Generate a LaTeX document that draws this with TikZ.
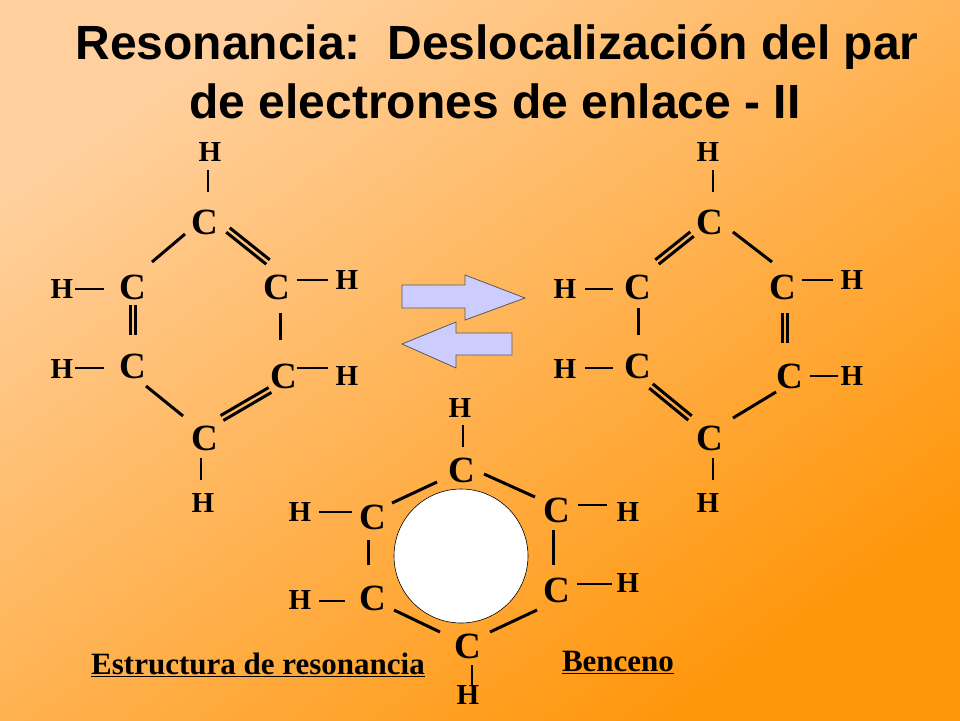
\documentclass[tikz,border=0pt]{standalone}
\usepackage{fontspec}
\setmainfont{Liberation Serif}
\newfontfamily\arialb{Liberation Sans}
\usetikzlibrary{calc}
\newcommand\dbl[2]{\draw[bond] ($#1!2.8pt!90:#2$)--($#2!2.8pt!-90:#1$); \draw[bond] ($#1!2.8pt!-90:#2$)--($#2!2.8pt!90:#1$);}
\begin{document}
\begin{tikzpicture}[x=1pt,y=-1pt,
  cc/.style={font=\fontsize{37}{37}\selectfont\bfseries,inner sep=0pt},
  hh/.style={font=\fontsize{29}{29}\selectfont\bfseries,inner sep=0pt},
  bond/.style={line width=3pt},
  hb/.style={line width=1.2pt},
  arr/.style={fill={rgb,255:red,204;green,204;blue,255},draw=gray!70!black,line width=0.8pt},
  lab/.style={font=\fontsize{31}{31}\selectfont\bfseries,inner sep=0pt}]
\useasboundingbox (0,0) rectangle (960,720);
\shade[left color={rgb,255:red,255;green,208;blue,158},right color={rgb,255:red,255;green,150;blue,10},shading angle=35] (0,0) rectangle (960,720);
\node[font=\fontsize{48}{48}\selectfont\arialb\bfseries] (t1) at (497,47) {Resonancia:\ \ Deslocalización del par};
\node[font=\fontsize{48}{48}\selectfont\arialb\bfseries] (t2) at (495,101) {de electrones de enlace - II};
% left molecule
\node[cc] (a1) at (205,222) {C}; \node[cc] (a2) at (133,287) {C}; \node[cc] (a3) at (277,287) {C};
\node[cc] (a4) at (133,366) {C}; \node[cc] (a5) at (284,376) {C}; \node[cc] (a6) at (205,438) {C};
\node[hh] (ha1) at (210,152) {H}; \node[hh] (ha6) at (203,503) {H};
\node[hh] (ha2) at (62,289) {H}; \node[hh] (ha4) at (62,369) {H};
\node[hh] (ha3) at (347,280) {H}; \node[hh] (ha5) at (347,376) {H};
\draw[bond] (152,262)--(185,234);
\dbl{(228,230)}{(268,262)}
\dbl{(133,305)}{(133,335)}
\draw[bond] (280,313)--(280,340);
\draw[bond] (146,386)--(183,416);
\dbl{(222,418)}{(270,390)}
\draw[hb] (208,170)--(208,192); \draw[hb] (201,458)--(201,480);
\draw[hb] (75,289)--(104,289); \draw[hb] (75,368)--(104,368);
\draw[hb] (297,280)--(328,280); \draw[hb] (297,368)--(328,368);
% arrows
\draw[arr] (402,285)--(465,285)--(465,275)--(525,298)--(465,320)--(465,308)--(402,308)--cycle;
\draw[arr] (512,333)--(456,333)--(456,322)--(402,344)--(456,368)--(456,355)--(512,355)--cycle;
% right molecule
\node[cc] (b1) at (710,222) {C}; \node[cc] (b2) at (638,287) {C}; \node[cc] (b3) at (783,287) {C};
\node[cc] (b4) at (638,366) {C}; \node[cc] (b5) at (790,376) {C}; \node[cc] (b6) at (710,438) {C};
\node[hh] (hb1) at (708,152) {H}; \node[hh] (hb6) at (708,503) {H};
\node[hh] (hb2) at (565,289) {H}; \node[hh] (hb4) at (565,369) {H};
\node[hh] (hb3) at (852,280) {H}; \node[hh] (hb5) at (852,376) {H};
\dbl{(657,262)}{(692,234)}
\draw[bond] (733,232)--(772,262);
\draw[bond] (638,308)--(638,335);
\dbl{(785,313)}{(785,343)}
\dbl{(651,386)}{(690,418)}
\draw[bond] (733,418)--(776,392);
\draw[hb] (713,170)--(713,192); \draw[hb] (713,458)--(713,480);
\draw[hb] (585,289)--(613,289); \draw[hb] (585,368)--(613,368);
\draw[hb] (802,280)--(833,280); \draw[hb] (810,376)--(838,376);
% benzene
\node[circle,draw,fill=white,line width=0.6pt,minimum size=134pt,inner sep=0pt] (ring) at (461,556) {};
\node[cc] (c1) at (462,470) {C}; \node[cc] (c2) at (373,517) {C}; \node[cc] (c3) at (557,510) {C};
\node[cc] (c4) at (373,598) {C}; \node[cc] (c5) at (557,590) {C}; \node[cc] (c6) at (468,646) {C};
\node[hh] (hc1) at (460,408) {H}; \node[hh] (hc6) at (468,695) {H};
\node[hh] (hc2) at (300,512) {H}; \node[hh] (hc4) at (300,600) {H};
\node[hh] (hc3) at (628,512) {H}; \node[hh] (hc5) at (628,583) {H};
\draw[bond] (392,503)--(437,482); \draw[bond] (484,474)--(535,497);
\draw[bond] (368,540)--(368,565); \draw[bond] (553,530)--(553,565);
\draw[bond] (394,610)--(440,632); \draw[bond] (490,632)--(537,610);
\draw[hb] (463,425)--(463,447); \draw[hb] (472,665)--(472,685);
\draw[hb] (319,512)--(352,512); \draw[hb] (319,601)--(345,601);
\draw[hb] (578,505)--(607,505); \draw[hb] (577,584)--(612,584);
% labels
\node[lab] (l1) at (258,665) {\underline{Estructura de resonancia}};
\node[lab] (l2) at (618,662) {\underline{Benceno}};
\end{tikzpicture}
\end{document}
